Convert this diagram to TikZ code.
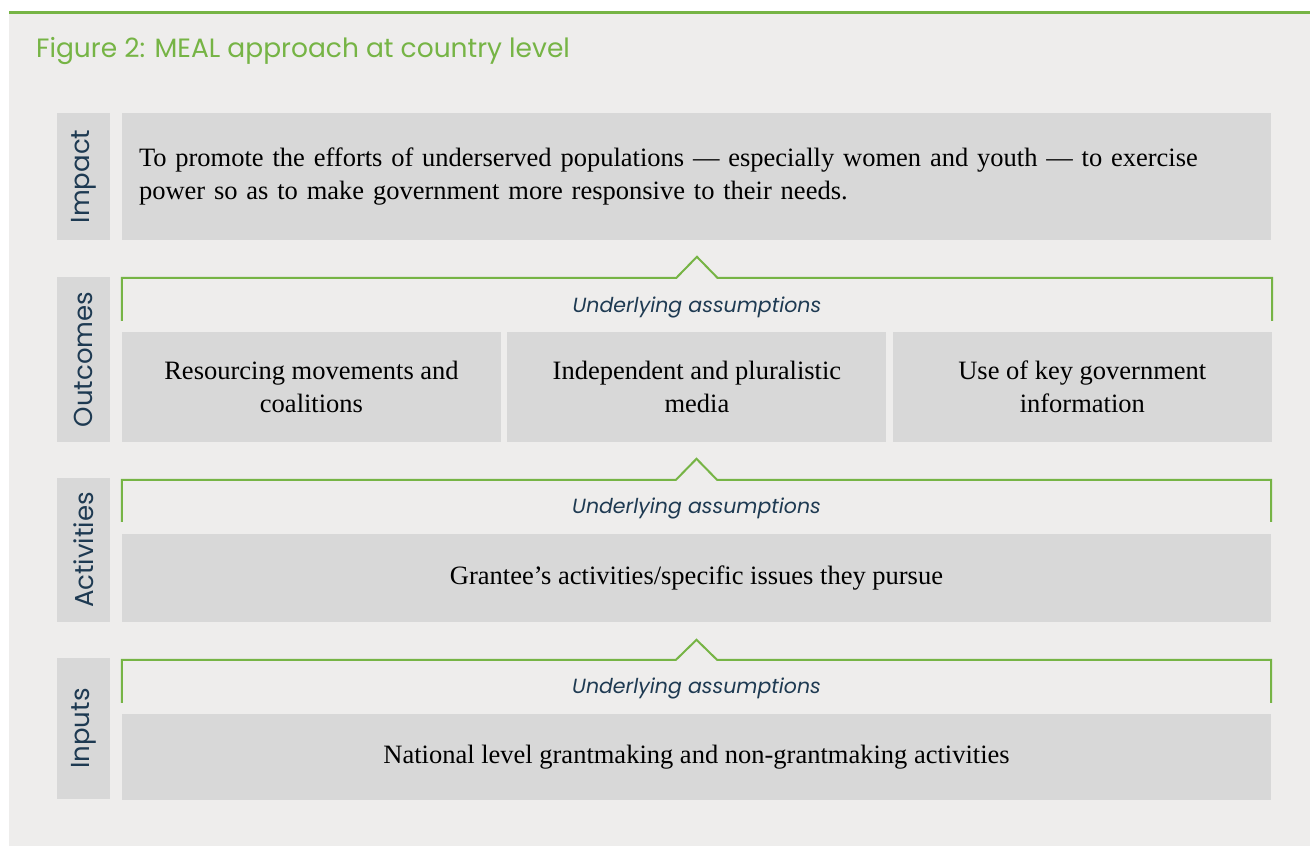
\documentclass[tikz,border=0pt]{standalone}
\usepackage{fontspec}
\setmainfont{Liberation Serif}
\setsansfont{Poppins}
\usepackage{xcolor}
\usetikzlibrary{positioning}
\definecolor{cgreen}{HTML}{76B445}
\definecolor{cnavy}{HTML}{1E3A52}
\definecolor{cbg}{HTML}{EEEDEC}
\definecolor{cbox}{HTML}{D8D8D8}

\begin{document}
\begin{tikzpicture}[
    x=1pt, y=1pt,
    font=\fontsize{26.5}{33}\selectfont,
    title/.style={
        font=\sffamily\fontsize{26.5}{30}\selectfont, text=cgreen,
        inner sep=0pt
    },
    lbl/.style={
        rectangle, fill=cbox, rotate=90, minimum height=53pt,
        inner sep=0pt, text=cnavy,
        font=\sffamily\fontsize{26}{30}\selectfont
    },
    box/.style={
        rectangle, fill=cbox, inner sep=0pt, align=center
    },
    bracket/.style={draw=cgreen, line width=2pt},
    assump/.style={
        font=\sffamily\itshape\fontsize{20.5}{24}\selectfont,
        text=cnavy, anchor=base, inner sep=0pt
    },
]
\useasboundingbox (0,0) rectangle (1310,846);

% --- Panel ------------------------------------------------------------------
\fill[cbg] (9,0) rectangle (1310,833);
\draw[cgreen, line width=2.5pt] (9,833.5) -- (1310,833.5);
\node[title, anchor=base west] (title) at (36,788.5)
    {Figure 2: MEAL approach at country level};

% --- Impact -----------------------------------------------------------------
\node[lbl, minimum width=127pt] (impactlbl) at (83.5,669.5) {Impact};
\node[box, minimum width=1149pt, minimum height=127pt,
      text width=1115pt, align=left] (impact) at (696.5,669.5) {%
    To promote the efforts of underserved populations --- especially women
    and youth --- to exercise\\
    power so as to make government more responsive to their needs.
};

% --- Outcomes ---------------------------------------------------------------
\node[lbl, minimum width=165pt] (outlbl) at (83.5,486.5) {Outcomes};
\node[box, minimum width=379pt, minimum height=110pt] (out1) at (311.5,459)
    {Resourcing movements and\\coalitions};
\node[box, minimum width=379pt, minimum height=110pt, right=6pt of out1]
    (out2) {Independent and pluralistic\\media};
\node[box, minimum width=379pt, minimum height=110pt, right=6pt of out2]
    (out3) {Use of key government\\information};

\draw[bracket] ([yshift=11pt]out1.north west)
    |- ([xshift=-20.5pt, yshift=54pt]out2.north)
    -- ([yshift=75pt]out2.north)
    -- ([xshift=20.5pt, yshift=54pt]out2.north)
    -| ([yshift=11pt]out3.north east);
\node[assump] (outua) at ([yshift=19.5pt]out2.north) {Underlying assumptions};

% --- Activities -------------------------------------------------------------
\node[lbl, minimum width=144pt] (actlbl) at (83.5,296) {Activities};
\node[box, minimum width=1149pt, minimum height=88pt] (act) at (696.5,268)
    {Grantee’s activities/specific issues they pursue};

\draw[bracket] ([yshift=12pt]act.north west)
    |- ([xshift=-20.5pt, yshift=54pt]act.north)
    -- ([yshift=75pt]act.north)
    -- ([xshift=20.5pt, yshift=54pt]act.north)
    -| ([yshift=12pt]act.north east);
\node[assump] (actua) at ([yshift=20pt]act.north) {Underlying assumptions};

% --- Inputs -----------------------------------------------------------------
\node[lbl, minimum width=141pt] (inlbl) at (83.5,117.5) {Inputs};
\node[box, minimum width=1149pt, minimum height=86pt] (inp) at (696.5,89)
    {National level grantmaking and non-grantmaking activities};

\draw[bracket] ([yshift=11pt]inp.north west)
    |- ([xshift=-20.5pt, yshift=54pt]inp.north)
    -- ([yshift=74pt]inp.north)
    -- ([xshift=20.5pt, yshift=54pt]inp.north)
    -| ([yshift=11pt]inp.north east);
\node[assump] (inua) at ([yshift=20pt]inp.north) {Underlying assumptions};

\end{tikzpicture}
\end{document}
